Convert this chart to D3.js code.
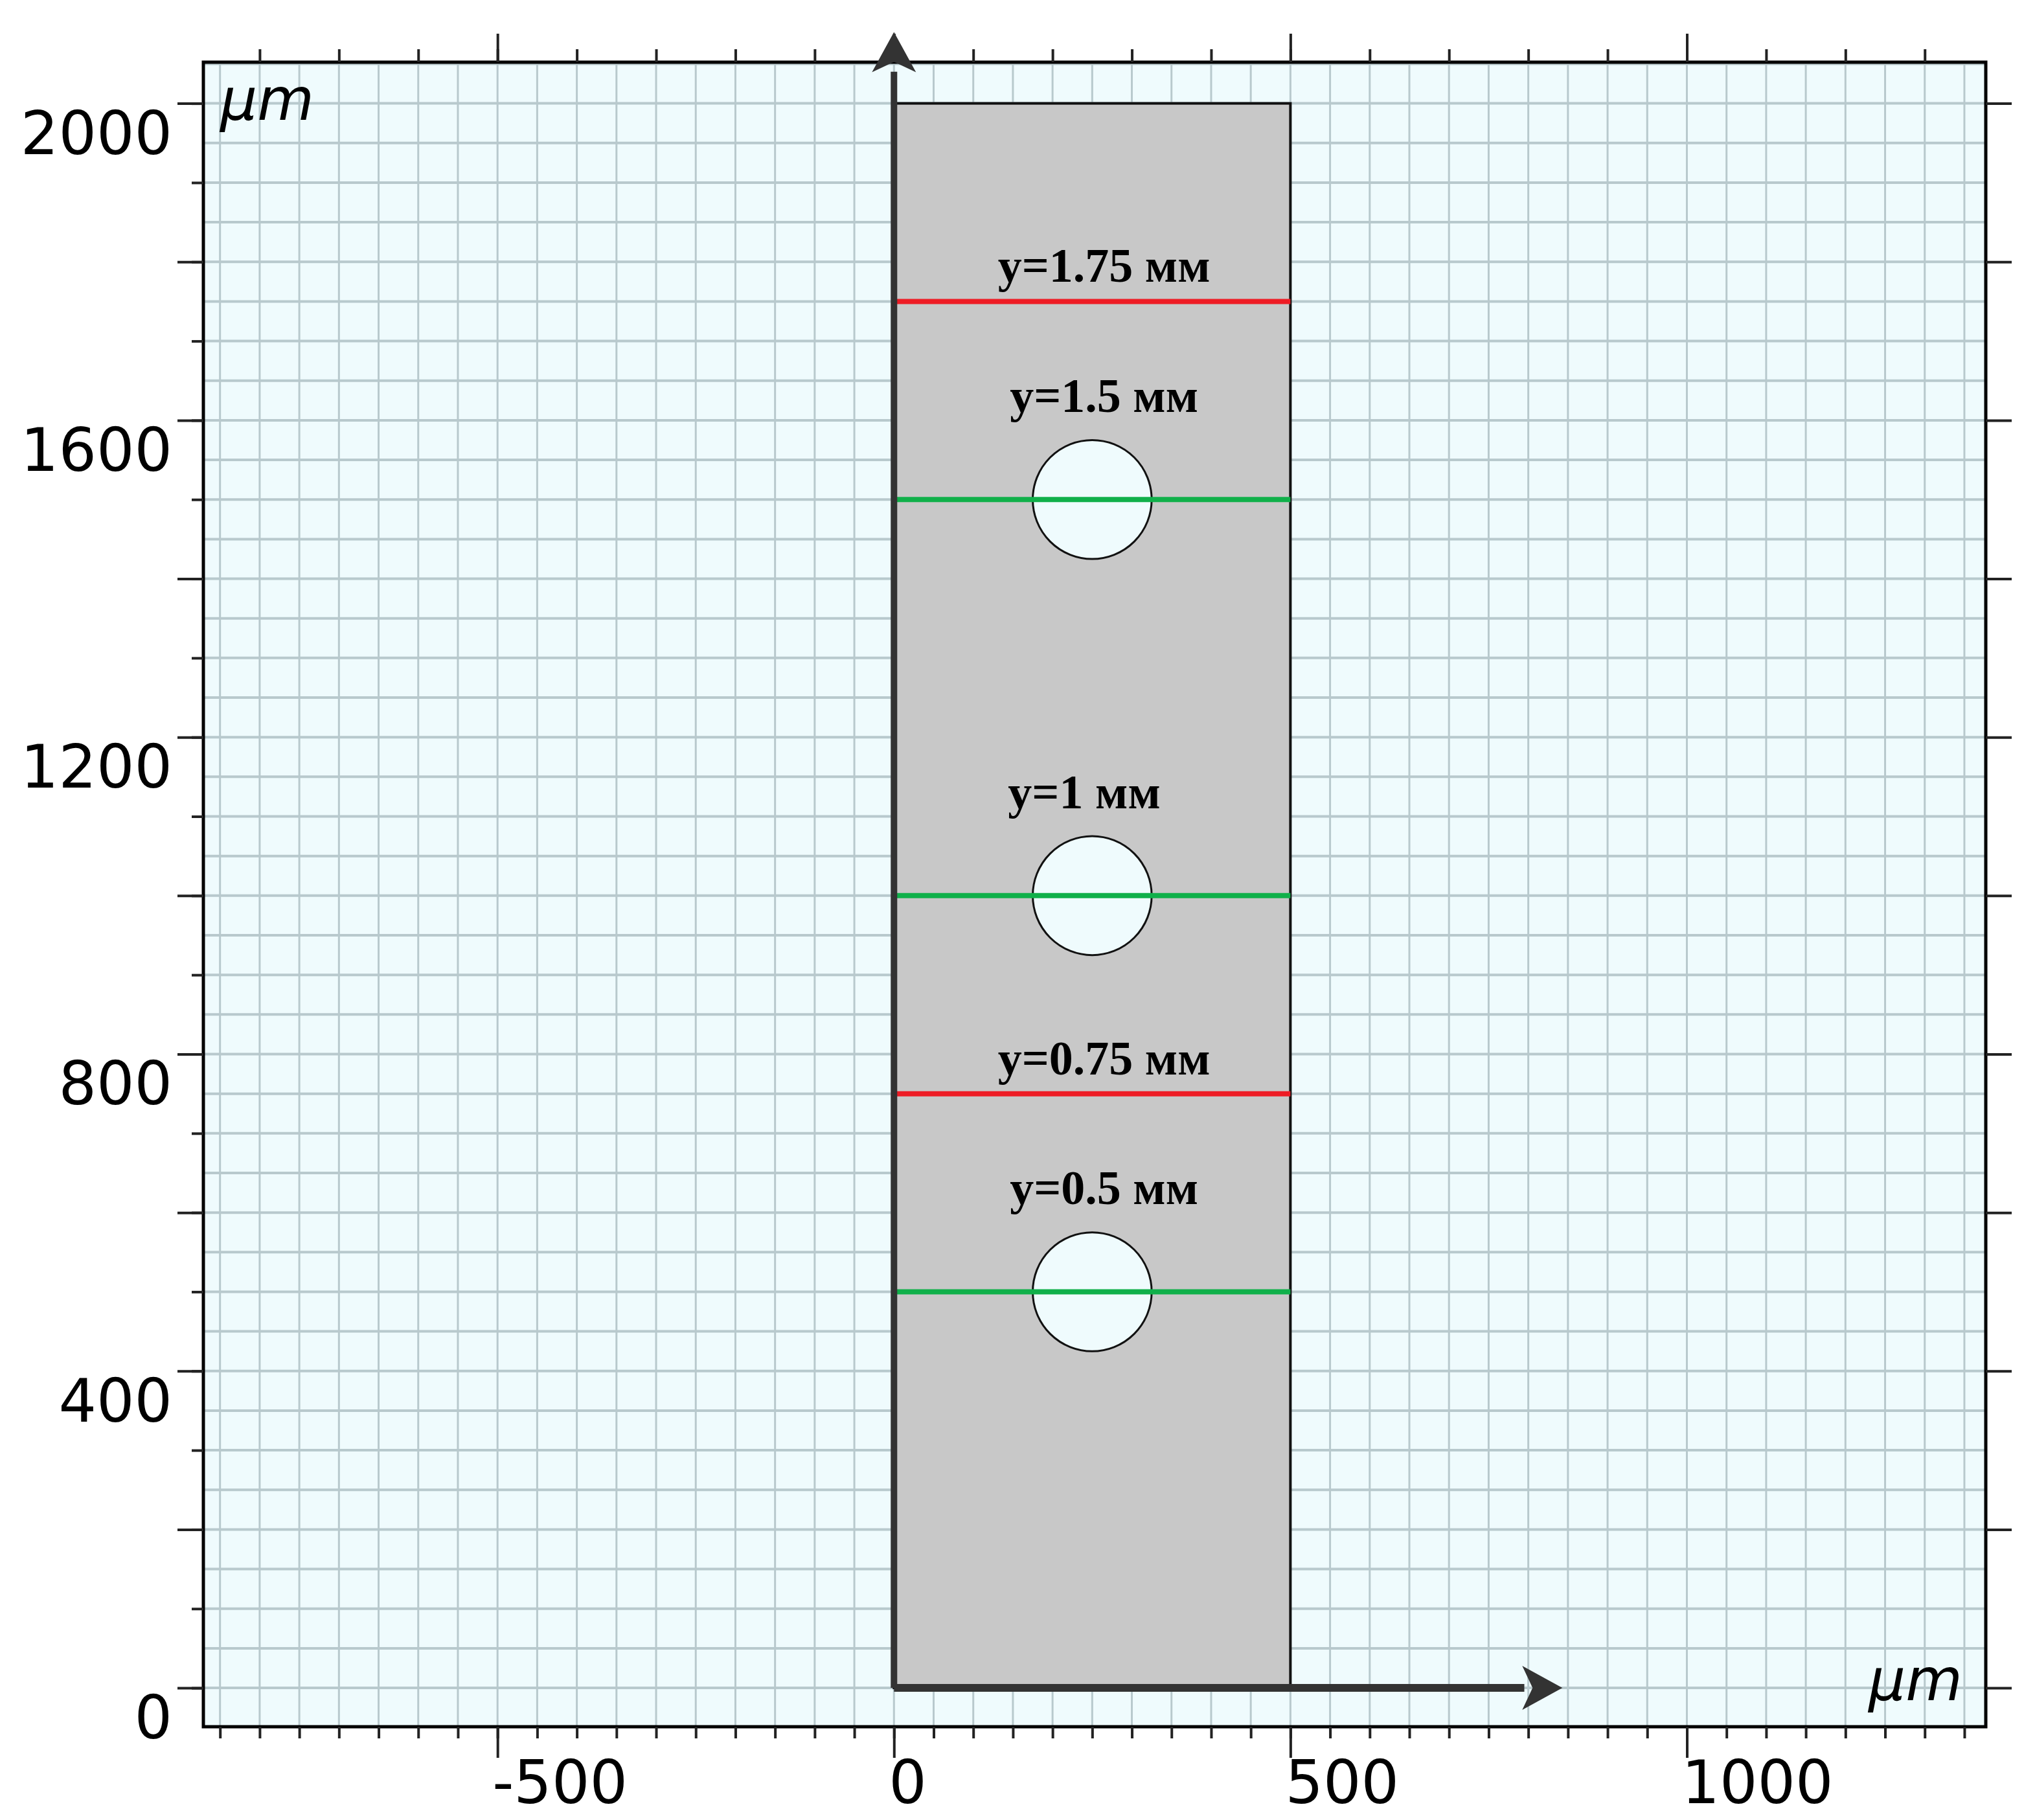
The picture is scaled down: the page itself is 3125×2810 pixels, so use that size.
<!DOCTYPE html>
<html>
<head>
<meta charset="utf-8">
<script src="https://cdn.jsdelivr.net/npm/d3@7"></script>
<style>
body { margin: 0; background: #fff; }
</style>
</head>
<body>
<script>
// cuts across the sample (micrometres) and their colours
var cutY = [1750, 1500, 1000, 750, 500];
var cutLabels = ["y=1.75 мм", "y=1.5 мм", "y=1 мм", "y=0.75 мм", "y=0.5 мм"];
var cutColors = ["#ee1c25", "#10b04a", "#10b04a", "#ee1c25", "#10b04a"];
// holes
var holeY = [1500, 1000, 500];
var holeX = 250, holeR = 75;
// sample rectangle
var sample = [0, 0, 500, 2000];
var xTicks = [-500, 0, 500, 1000];
var yTicks = [0, 400, 800, 1200, 1600, 2000];

var W = 3125, H = 2810;
var x = d3.scaleLinear().domain([-871, 1377]).range([314, 3066]);
var y = d3.scaleLinear().domain([-49, 2052]).range([2666, 96]);

var svg = d3.select("body").append("svg").attr("width", W).attr("height", H);

// background + grid
svg.append("rect").attr("x", x(-871)).attr("y", y(2052))
    .attr("width", x(1377) - x(-871)).attr("height", y(-49) - y(2052))
    .attr("fill", "#effbfd");
var gx = d3.range(-850, 1377, 50), gy = d3.range(-0, 2052, 50);
svg.selectAll(".gv").data(gx).enter().append("line")
    .attr("x1", d => x(d)).attr("x2", d => x(d)).attr("y1", y(2052)).attr("y2", y(-49))
    .attr("stroke", "#b8c9cd").attr("stroke-width", 3);
svg.selectAll(".gh").data(gy).enter().append("line")
    .attr("y1", d => y(d)).attr("y2", d => y(d)).attr("x1", x(-871)).attr("x2", x(1377))
    .attr("stroke", "#b8c9cd").attr("stroke-width", 4);

// frame
svg.append("rect").attr("x", x(-871)).attr("y", y(2052))
    .attr("width", x(1377) - x(-871)).attr("height", y(-49) - y(2052))
    .attr("fill", "none").attr("stroke", "#000").attr("stroke-width", 5);

// ticks
var bottom = d3.axisBottom(x).tickValues(d3.range(-850, 1377, 50)).tickSize(18).tickFormat("");
svg.append("g").attr("transform", "translate(0," + y(-49) + ")").call(bottom);
svg.append("g").attr("transform", "translate(0," + y(-49) + ")")
    .call(d3.axisBottom(x).tickValues(xTicks).tickSize(48).tickFormat(""));
svg.append("g").attr("transform", "translate(0," + y(2052) + ")")
    .call(d3.axisTop(x).tickValues(d3.range(-800, 1377, 100)).tickSize(20).tickFormat(""));
svg.append("g").attr("transform", "translate(0," + y(2052) + ")")
    .call(d3.axisTop(x).tickValues(xTicks).tickSize(44).tickFormat(""));
svg.append("g").attr("transform", "translate(" + x(-871) + ",0)")
    .call(d3.axisLeft(y).tickValues(d3.range(0, 2052, 100)).tickSize(18).tickFormat(""));
svg.append("g").attr("transform", "translate(" + x(-871) + ",0)")
    .call(d3.axisLeft(y).tickValues(d3.range(0, 2052, 200)).tickSize(40).tickFormat(""));
svg.append("g").attr("transform", "translate(" + x(1377) + ",0)")
    .call(d3.axisRight(y).tickValues(d3.range(0, 2052, 200)).tickSize(40).tickFormat(""));
svg.selectAll(".domain").remove();
svg.selectAll(".tick line").attr("stroke", "#222").attr("stroke-width", 4);

// tick labels
svg.selectAll(".xl").data(xTicks).enter().append("text")
    .attr("x", d => x(d) - 8).attr("y", y(-49) + 118)
    .attr("font-family", "DejaVu Sans").attr("font-size", 92).text(d => d < 0 ? "-" + (-d) : d);
svg.selectAll(".yl").data(yTicks).enter().append("text")
    .attr("x", x(-871) - 48).attr("y", d => y(d) + 78).attr("text-anchor", "end")
    .attr("font-family", "DejaVu Sans").attr("font-size", 92).text(d => d);

// unit labels
svg.append("text").attr("x", 340).attr("y", 185).attr("font-family", "DejaVu Sans")
    .attr("font-size", 90).attr("font-style", "italic").text("µm");
svg.append("text").attr("x", 2885).attr("y", 2625).attr("font-family", "DejaVu Sans")
    .attr("font-size", 90).attr("font-style", "italic").text("µm");

// sample
svg.append("rect").attr("x", x(sample[0])).attr("y", y(sample[3]))
    .attr("width", x(sample[2]) - x(sample[0])).attr("height", y(sample[1]) - y(sample[3]))
    .attr("fill", "#c8c8c8").attr("stroke", "#111").attr("stroke-width", 4);

// holes
svg.selectAll(".hole").data(holeY).enter().append("circle")
    .attr("cx", x(holeX)).attr("cy", d => y(d)).attr("r", x(holeR) - x(0))
    .attr("fill", "#effbfd").attr("stroke", "#111").attr("stroke-width", 3);

// cut lines
svg.selectAll(".cut").data(cutY).enter().append("line")
    .attr("x1", x(0)).attr("x2", x(500)).attr("y1", d => y(d)).attr("y2", d => y(d))
    .attr("stroke", (d, i) => cutColors[i]).attr("stroke-width", 8);
svg.selectAll(".cutl").data(cutY).enter().append("text")
    .attr("x", (d, i) => x(i == 2 ? 240 : 265)).attr("y", (d, i) => y(d) - (holeY.indexOf(d) >= 0 ? 135 : 30))
    .attr("text-anchor", "middle").attr("font-family", "Liberation Serif")
    .attr("font-weight", "bold").attr("font-size", 74).text((d, i) => cutLabels[i]);

// coordinate arrows
var ax = svg.append("g").attr("fill", "#333").attr("stroke", "#333");
ax.append("line").attr("x1", x(0)).attr("y1", y(0)).attr("x2", x(0)).attr("y2", y(2040))
    .attr("stroke-width", 10);
ax.append("path").attr("stroke", "none")
    .attr("d", "M" + x(0) + "," + (y(2090)) + "l-34,62l34,-16l34,16z");
ax.append("line").attr("x1", x(0)).attr("y1", y(0)).attr("x2", x(795)).attr("y2", y(0))
    .attr("stroke-width", 12);
ax.append("path").attr("stroke", "none")
    .attr("d", "M" + x(843) + "," + y(0) + "l-62,-34l16,34l-16,34z");
</script>
</body>
</html>
